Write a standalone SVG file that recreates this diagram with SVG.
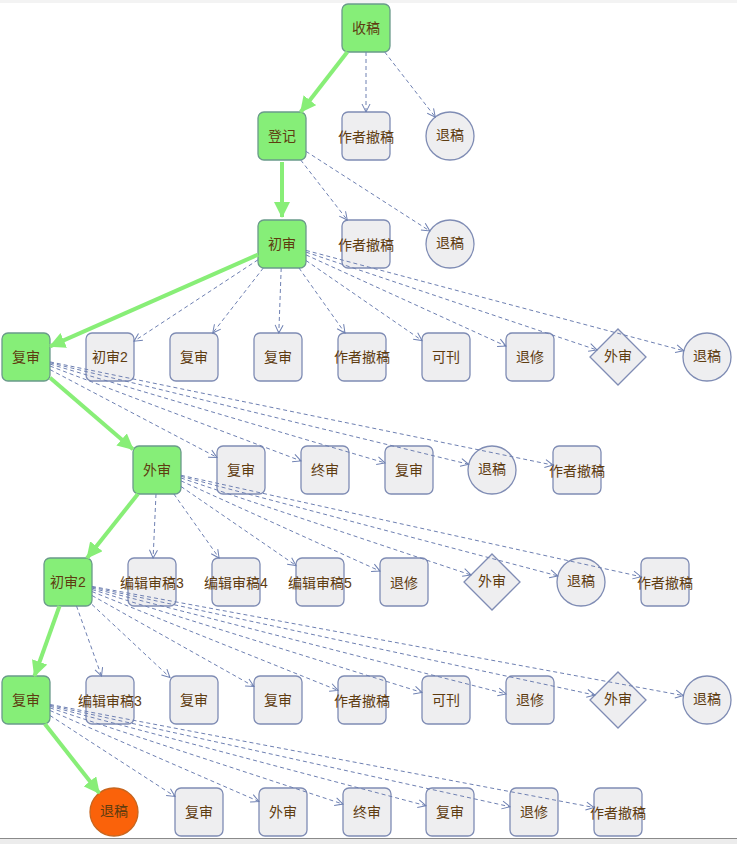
<svg xmlns="http://www.w3.org/2000/svg" width="737" height="844" viewBox="0 0 737 844">
<defs>
<style>
.g{fill:#86ee78;stroke:#6a9a8a;stroke-width:1.3}
.n{fill:#eeeef0;stroke:#7f8cb4;stroke-width:1.3}
.o{fill:#fa620a;stroke:#c7651e;stroke-width:1.3}
text{font-family:"Liberation Sans","Noto Sans CJK SC",sans-serif;font-size:14px;fill:#5e3c10;text-anchor:middle}
.ge{stroke:#88ee77;stroke-width:4;fill:none;marker-end:url(#ga)}
.de{stroke:#6e80b2;stroke-width:1;fill:none;stroke-dasharray:4 3;marker-end:url(#da)}
</style>
<marker id="ga" markerUnits="userSpaceOnUse" viewBox="0 0 16 16" refX="15" refY="8" markerWidth="16" markerHeight="16" orient="auto"><path d="M0,0 L16,8 L0,16 Z" fill="#88ee77"/></marker>
<marker id="da" markerUnits="userSpaceOnUse" viewBox="0 0 10 10" refX="9" refY="5" markerWidth="10" markerHeight="10" orient="auto"><path d="M1,1 L9,5 L1,9" fill="none" stroke="#6e80b2" stroke-width="1"/></marker>
</defs>
<rect x="0" y="0" width="737" height="844" fill="#ffffff"/>
<rect x="0" y="0" width="737" height="3" fill="#f3f3f3"/>
<rect x="0" y="838" width="737" height="6" fill="#ececec"/>
<line x1="0" y1="838.5" x2="737" y2="838.5" stroke="#8a8a8a" stroke-width="1"/>

<g id="n0"><rect class="g" x="342" y="4" width="48" height="48" rx="6"/><text x="366" y="33">收稿</text></g>
<g id="n1a"><rect class="g" x="258" y="112" width="48" height="48" rx="6"/><text x="282" y="141">登记</text></g>
<g id="n1b"><rect class="n" x="342" y="112" width="48" height="48" rx="6"/><text x="366" y="142">作者撤稿</text></g>
<g id="n1c"><circle class="n" cx="450" cy="136" r="24"/><text x="450" y="140">退稿</text></g>
<g id="n2a"><rect class="g" x="258" y="220" width="48" height="48" rx="6"/><text x="282" y="249">初审</text></g>
<g id="n2b"><rect class="n" x="342" y="220" width="48" height="48" rx="6"/><text x="366" y="250">作者撤稿</text></g>
<g id="n2c"><circle class="n" cx="450" cy="244" r="24"/><text x="450" y="248">退稿</text></g>

<g id="n3a"><rect class="g" x="2" y="333" width="48" height="48" rx="6"/><text x="26" y="362">复审</text></g>
<g id="n3b"><rect class="n" x="86" y="333" width="48" height="48" rx="6"/><text x="110" y="362">初审2</text></g>
<g id="n3c"><rect class="n" x="170" y="333" width="48" height="48" rx="6"/><text x="194" y="362">复审</text></g>
<g id="n3d"><rect class="n" x="254" y="333" width="48" height="48" rx="6"/><text x="278" y="362">复审</text></g>
<g id="n3e"><rect class="n" x="338" y="333" width="48" height="48" rx="6"/><text x="362" y="362">作者撤稿</text></g>
<g id="n3f"><rect class="n" x="422" y="333" width="48" height="48" rx="6"/><text x="446" y="362">可刊</text></g>
<g id="n3g"><rect class="n" x="506" y="333" width="48" height="48" rx="6"/><text x="530" y="362">退修</text></g>
<g id="n3h"><polygon class="n" points="618,329 646,357 618,385 590,357"/><text x="618" y="361">外审</text></g>
<g id="n3i"><circle class="n" cx="707" cy="357" r="24"/><text x="707" y="361">退稿</text></g>

<g id="n4a"><rect class="g" x="133" y="446" width="48" height="48" rx="6"/><text x="157" y="475">外审</text></g>
<g id="n4b"><rect class="n" x="217" y="446" width="48" height="48" rx="6"/><text x="241" y="475">复审</text></g>
<g id="n4c"><rect class="n" x="301" y="446" width="48" height="48" rx="6"/><text x="325" y="475">终审</text></g>
<g id="n4d"><rect class="n" x="385" y="446" width="48" height="48" rx="6"/><text x="409" y="475">复审</text></g>
<g id="n4e"><circle class="n" cx="492" cy="470" r="24"/><text x="492" y="474">退稿</text></g>
<g id="n4f"><rect class="n" x="553" y="446" width="48" height="48" rx="6"/><text x="577" y="476">作者撤稿</text></g>

<g id="n5a"><rect class="g" x="44" y="558" width="48" height="48" rx="6"/><text x="68" y="587">初审2</text></g>
<g id="n5b"><rect class="n" x="128" y="558" width="48" height="48" rx="6"/><text x="152" y="588">编辑审稿3</text></g>
<g id="n5c"><rect class="n" x="212" y="558" width="48" height="48" rx="6"/><text x="236" y="588">编辑审稿4</text></g>
<g id="n5d"><rect class="n" x="296" y="558" width="48" height="48" rx="6"/><text x="320" y="588">编辑审稿5</text></g>
<g id="n5e"><rect class="n" x="380" y="558" width="48" height="48" rx="6"/><text x="404" y="588">退修</text></g>
<g id="n5f"><polygon class="n" points="492,554 520,582 492,610 464,582"/><text x="492" y="586">外审</text></g>
<g id="n5g"><circle class="n" cx="581" cy="582" r="24"/><text x="581" y="586">退稿</text></g>
<g id="n5h"><rect class="n" x="641" y="558" width="48" height="48" rx="6"/><text x="665" y="588">作者撤稿</text></g>

<g id="n6a"><rect class="g" x="2" y="676" width="48" height="48" rx="6"/><text x="26" y="705">复审</text></g>
<g id="n6b"><rect class="n" x="86" y="676" width="48" height="48" rx="6"/><text x="110" y="706">编辑审稿3</text></g>
<g id="n6c"><rect class="n" x="170" y="676" width="48" height="48" rx="6"/><text x="194" y="705">复审</text></g>
<g id="n6d"><rect class="n" x="254" y="676" width="48" height="48" rx="6"/><text x="278" y="705">复审</text></g>
<g id="n6e"><rect class="n" x="338" y="676" width="48" height="48" rx="6"/><text x="362" y="706">作者撤稿</text></g>
<g id="n6f"><rect class="n" x="422" y="676" width="48" height="48" rx="6"/><text x="446" y="705">可刊</text></g>
<g id="n6g"><rect class="n" x="506" y="676" width="48" height="48" rx="6"/><text x="530" y="705">退修</text></g>
<g id="n6h"><polygon class="n" points="618,672 646,700 618,728 590,700"/><text x="618" y="704">外审</text></g>
<g id="n6i"><circle class="n" cx="707" cy="700" r="24"/><text x="707" y="704">退稿</text></g>

<g id="n7a"><circle class="o" cx="114" cy="812" r="24"/><text x="114" y="816">退稿</text></g>
<g id="n7b"><rect class="n" x="175" y="788" width="48" height="48" rx="6"/><text x="199" y="817">复审</text></g>
<g id="n7c"><rect class="n" x="259" y="788" width="48" height="48" rx="6"/><text x="283" y="817">外审</text></g>
<g id="n7d"><rect class="n" x="343" y="788" width="48" height="48" rx="6"/><text x="367" y="817">终审</text></g>
<g id="n7e"><rect class="n" x="426" y="788" width="48" height="48" rx="6"/><text x="450" y="817">复审</text></g>
<g id="n7f"><rect class="n" x="510" y="788" width="48" height="48" rx="6"/><text x="534" y="817">退修</text></g>
<g id="n7g"><rect class="n" x="594" y="788" width="48" height="48" rx="6"/><text x="618" y="818">作者撤稿</text></g>

<g id="connectors">
<line class="ge" x1="347.3" y1="52" x2="300.7" y2="112"/>
<line class="de" x1="366" y1="52" x2="366" y2="112"/>
<line class="de" x1="384.7" y1="52" x2="435.3" y2="117.1"/>
<line class="ge" x1="282" y1="162" x2="282" y2="217"/>
<line class="de" x1="300.7" y1="160" x2="347.3" y2="220"/>
<line class="de" x1="306" y1="151.4" x2="429.8" y2="231"/>

<line class="ge" x1="258" y1="254.6" x2="50" y2="346.4"/>
<line class="de" x1="258" y1="259.8" x2="134" y2="341.2"/>
<line class="de" x1="263.3" y1="268" x2="212.7" y2="333"/>
<line class="de" x1="281.2" y1="268" x2="278.8" y2="333"/>
<line class="de" x1="299" y1="268" x2="345" y2="333"/>
<line class="de" x1="306" y1="260.5" x2="422" y2="340.5"/>
<line class="de" x1="306" y1="254.9" x2="506" y2="346.1"/>
<line class="de" x1="306" y1="252.1" x2="597" y2="350"/>
<line class="de" x1="306" y1="250.4" x2="683.8" y2="350.8"/>

<line class="ge" x1="50" y1="377.7" x2="133" y2="449.3"/>
<line class="de" x1="50" y1="369.6" x2="217" y2="457.4"/>
<line class="de" x1="50" y1="366.1" x2="301" y2="460.9"/>
<line class="de" x1="50" y1="364.1" x2="385" y2="462.9"/>
<line class="de" x1="50" y1="362.8" x2="468.7" y2="464.3"/>
<line class="de" x1="50" y1="361.9" x2="553" y2="465.1"/>

<line class="ge" x1="137.9" y1="494" x2="87.1" y2="558"/>
<line class="de" x1="156" y1="494" x2="153.1" y2="558"/>
<line class="de" x1="173.9" y1="494" x2="219.1" y2="558"/>
<line class="de" x1="181" y1="486.5" x2="296" y2="565.5"/>
<line class="de" x1="181" y1="480.9" x2="380" y2="571.1"/>
<line class="de" x1="181" y1="478" x2="471" y2="575"/>
<line class="de" x1="181" y1="476.3" x2="557.8" y2="575.9"/>
<line class="de" x1="181" y1="475.3" x2="641" y2="576.7"/>

<line class="ge" x1="59.5" y1="606" x2="34.5" y2="676"/>
<line class="de" x1="76.5" y1="606" x2="101.5" y2="676"/>
<line class="de" x1="92" y1="604.5" x2="170" y2="677.5"/>
<line class="de" x1="92" y1="595.5" x2="254" y2="686.5"/>
<line class="de" x1="92" y1="591.6" x2="338" y2="690.4"/>
<line class="de" x1="92" y1="589.5" x2="422" y2="692.5"/>
<line class="de" x1="92" y1="588.1" x2="506" y2="693.9"/>
<line class="de" x1="92" y1="587.1" x2="594.9" y2="695.1"/>
<line class="de" x1="92" y1="586.4" x2="683.4" y2="695.6"/>

<line class="ge" x1="44.9" y1="724" x2="99.2" y2="793.1"/>
<line class="de" x1="50" y1="715.5" x2="175" y2="796.5"/>
<line class="de" x1="50" y1="710.5" x2="259" y2="801.5"/>
<line class="de" x1="50" y1="707.9" x2="343" y2="804.1"/>
<line class="de" x1="50" y1="706.3" x2="426" y2="805.7"/>
<line class="de" x1="50" y1="705.3" x2="510" y2="806.7"/>
<line class="de" x1="50" y1="704.5" x2="594" y2="807.5"/>
</g>
</svg>
